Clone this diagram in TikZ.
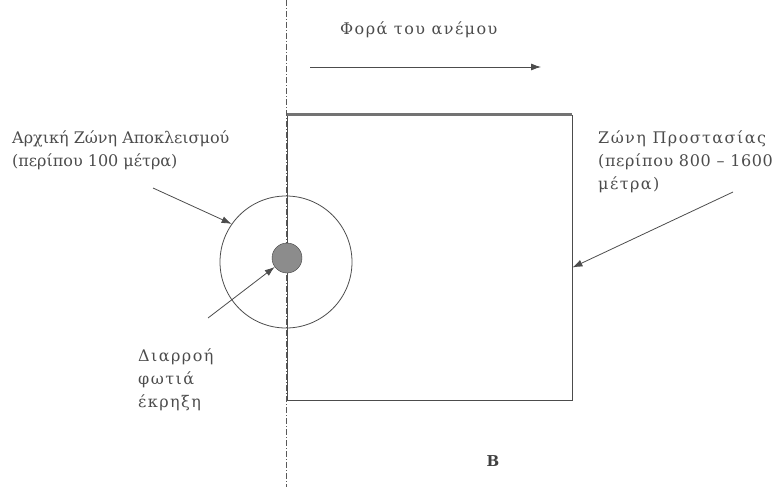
\documentclass[tikz,border=0pt]{standalone}
\usepackage{fontspec}
\setmainfont{DejaVu Serif}
\newfontfamily\widegreek{DejaVu Serif}[LetterSpace=9]
\newfontfamily\midgreek{DejaVu Serif}[LetterSpace=4]
\usetikzlibrary{arrows.meta}

\tikzset{
  lbl/.style={text=black!70, font=\fontsize{16}{23}\selectfont, align=left, inner sep=0pt},
  widelbl/.style={lbl, font=\widegreek\fontsize{16}{23}\selectfont},
  arr/.style={draw=black!70, thick, -{Latex[length=10pt,width=7pt]}},
}

\begin{document}
\begin{tikzpicture}[x=1pt,y=-1pt]
\useasboundingbox (0,0) rectangle (784,487);
\draw[black!65, thick, dash pattern=on 6pt off 2pt on 1pt off 2pt] (286,0) -- (286,487);
\node[draw=black!70, thick, minimum width=285pt, minimum height=285pt, inner sep=0pt] (zone) at (429.5,257.5) {};
\draw[black!55, line width=2.5pt] (zone.north west) -- (zone.north east);
\node[circle, draw=black!70, thick, minimum size=132pt, inner sep=0pt] (excl) at (286,262) {};
\node[circle, draw=black!75, fill=black!45, minimum size=30pt, inner sep=0pt] (leak) at (287,258) {};
\node[widelbl, anchor=west] (wind) at (340,30) {Φορά του ανέμου};
\coordinate (w1) at (310,67);
\coordinate (w2) at (541,67);
\draw[arr] (w1) -- (w2);
\node[lbl, anchor=north west] (exlbl) at (12,131) {Αρχική Ζώνη Αποκλεισμού\\(περίπου 100 μέτρα)};
\node[widelbl, anchor=north west] (prlbl) at (598,131) {Ζώνη Προστασίας\\{\midgreek(περίπου 800 – 1600}\\μέτρα)};
\node[widelbl, anchor=north west] (srclbl) at (138,348) {Διαρροή\\φωτιά\\έκρηξη};
\coordinate (e1) at (153,188);
\coordinate (p1) at (733,192);
\coordinate (s1) at (208,318);
\draw[arr] (e1) -- (excl.145);
\draw[arr] (p1) -- ([yshift=-10pt]zone.east);
\draw[arr] (s1) -- (leak.216);
\node[text=black!75, font=\bfseries\fontsize{15}{15}\selectfont] (b) at (493,461) {B};
\end{tikzpicture}
\end{document}
